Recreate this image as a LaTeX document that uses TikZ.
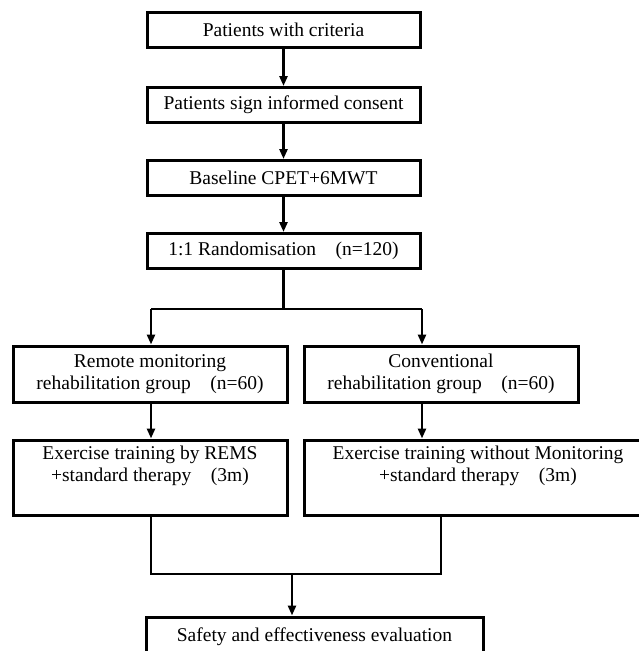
\documentclass[tikz,border=0pt]{standalone}
\usepackage{fontspec}
\setmainfont{Liberation Serif}
\usetikzlibrary{arrows.meta}

\begin{document}
\begin{tikzpicture}
    [x=1pt,y=-1pt, >={Triangle[length=10pt,width=8pt]},
     every node/.style={draw, line width=3pt, align=center, inner sep=0pt,
       font=\fontsize{19.5}{21.5}\selectfont},
     conn/.style={line width=2.6pt}]
    \useasboundingbox (0,0) rectangle (639,651);

    \node[minimum width=273pt, minimum height=35pt] (crit) at (283.5, 29.5) {Patients with criteria};
    \node[minimum width=273pt, minimum height=35pt] (consent) at (283.5, 105) {Patients sign informed consent};
    \node[minimum width=273pt, minimum height=35pt] (base) at (283.5, 178) {Baseline CPET+6MWT};
    \node[minimum width=273pt, minimum height=35pt] (rand) at (283.5, 251) {1:1 Randomisation\quad(n=120)};
    \node[minimum width=274pt, minimum height=56pt] (remote) at (150, 374) {Remote monitoring\\rehabilitation group\quad(n=60)};
    \node[minimum width=274pt, minimum height=56pt] (conv) at (441, 374) {Conventional\\rehabilitation group\quad(n=60)};
    \node[minimum width=274pt, minimum height=75pt] (exrems) at (150, 477.5) {Exercise training by REMS\\+standard therapy\quad(3m)\\\strut};
    \node[minimum width=348pt, minimum height=75pt] (exconv) at (478, 477.5) {Exercise training without Monitoring\\+standard therapy\quad(3m)\\\strut};
    \node[minimum width=337pt, minimum height=39pt] (eval) at (314.5, 636.5) {Safety and effectiveness evaluation};

    \coordinate (j0) at (283.5, 309);
    \coordinate (jl) at (151, 309);
    \coordinate (jr) at (422, 309);
    \coordinate (k0) at (292, 574);
    \coordinate (kl) at (151, 574);
    \coordinate (kr) at (441, 574);

    \draw[conn,->] (crit) -- (consent);
    \draw[conn,->] (consent) -- (base);
    \draw[conn,->] (base) -- (rand);
    \draw[conn] (rand) -- (j0);
    \draw[conn] (jl) -- (jr);
    \draw[conn,->] (jl) -- (remote.north -| jl);
    \draw[conn,->] (jr) -- (conv.north -| jr);
    \draw[conn,->] (remote.south -| jl) -- (exrems.north -| jl);
    \draw[conn,->] (conv.south -| jr) -- (exconv.north -| jr);
    \draw[conn] (exrems.south -| kl) -- (kl) -- (kr) -- (exconv.south -| kr);
    \draw[conn,->] (k0) -- (eval.north -| k0);
  \end{tikzpicture}
\end{document}
